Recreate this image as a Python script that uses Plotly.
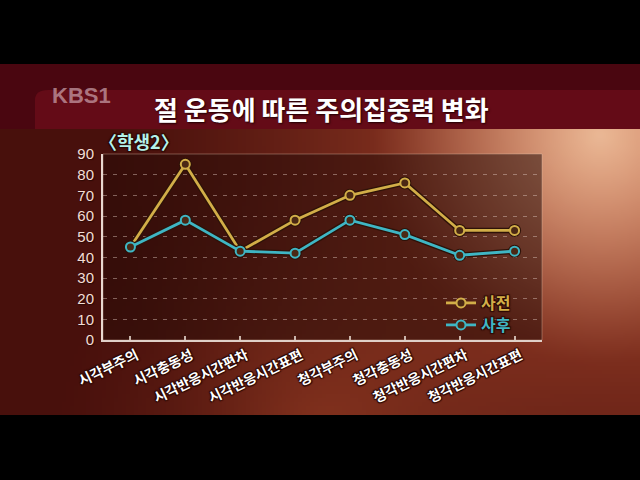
import base64, struct, zlib
import numpy as np
import plotly.graph_objects as go

# ---- data ----
categories = ["시각부주의", "시각충동성", "시각반응시간편차", "시각반응시간표편",
              "청각부주의", "청각충동성", "청각반응시간편차", "청각반응시간표편"]
before = [45, 85, 43, 58, 70, 76, 53, 53]   # 사전
after = [45, 58, 43, 42, 58, 51, 41, 43]    # 사후
y_ticks = [0, 10, 20, 30, 40, 50, 60, 70, 80, 90]

W, H = 640, 480
L, R, T, B = 103, 98, 154, 140
PW, PH = W - L - R, H - T - B


def fx(px):
    return (px - L) / PW


def fy(py):
    return (H - B - py) / PH


# ---- background gradient image ----
gw, gh = 160, 120
xs = (np.arange(gw) + 0.5) * (W / gw)
ys = (np.arange(gh) + 0.5) * (H / gh)
X, Y = np.meshgrid(xs, ys)
dark = np.array([72, 16, 12], float)
orange = np.array([185, 80, 50], float)
peach = np.array([235, 185, 150], float)
bott = np.array([165, 70, 40], float)
d1 = np.hypot(X - 620, Y - 130)
w1 = np.clip(1 - d1 / 520, 0, 1) ** 1.3
col = dark + (orange - dark) * w1[..., None]
d2 = np.hypot(X - 600, Y - 135)
w2 = np.clip(1 - d2 / 230, 0, 1) ** 1.2
col = col + (peach - col) * w2[..., None]
d3 = np.hypot(X - 320, Y - 440)
w3 = np.clip(1 - d3 / 280, 0, 1) ** 1.5 * 0.6
col = col + (bott - col) * w3[..., None]
arr = np.clip(col, 0, 255).astype(np.uint8)


def png_uri(a):
    h, w, _ = a.shape
    raw = b"".join(b"\x00" + a[r].tobytes() for r in range(h))

    def chunk(t, d):
        c = struct.pack(">I", len(d)) + t + d
        return c + struct.pack(">I", zlib.crc32(t + d) & 0xffffffff)

    png = (b"\x89PNG\r\n\x1a\n"
           + chunk(b"IHDR", struct.pack(">IIBBBBB", w, h, 8, 2, 0, 0, 0))
           + chunk(b"IDAT", zlib.compress(raw, 9))
           + chunk(b"IEND", b""))
    return "data:image/png;base64," + base64.b64encode(png).decode()


GOLD = "#d2ae48"
CYAN = "#3fb6c4"
OUT = "#2e1208"
outline_shadow = ("1px 1px 1px #2a0804, -1px -1px 1px #2a0804, "
                  "1px -1px 1px #2a0804, -1px 1px 1px #2a0804")

fig = go.Figure()
for vals, color, name, lg in [(before, GOLD, "사전", "legend"), (after, CYAN, "사후", "legend2")]:
    fig.add_trace(go.Scatter(
        x=categories, y=vals, mode="lines+markers", showlegend=False,
        line=dict(color=OUT, width=5.5),
        marker=dict(size=13, color=OUT), hoverinfo="skip"))
    fig.add_trace(go.Scatter(
        x=categories, y=vals, mode="lines+markers", legend=lg,
        name=f"<span style='color:{color}'>{name}</span>",
        line=dict(color=color, width=2.8),
        marker=dict(size=9, color="#4a2814", line=dict(color=color, width=2))))

shapes = [
    dict(type="rect", xref="paper", yref="paper", x0=fx(0), x1=fx(W),
         y0=fy(64), y1=fy(0), fillcolor="#000000", line_width=0, layer="below"),
    dict(type="rect", xref="paper", yref="paper", x0=fx(0), x1=fx(W),
         y0=fy(129), y1=fy(64), fillcolor="#4a0610", line_width=0, layer="below"),
    dict(type="path", xref="paper", yref="paper", layer="below", line_width=0,
         fillcolor="#640b17",
         path=(f"M {fx(35)},{fy(129)} L {fx(35)},{fy(100)} "
               f"Q {fx(35)},{fy(90)} {fx(48)},{fy(90)} L {fx(W)},{fy(90)} "
               f"L {fx(W)},{fy(129)} Z")),
    dict(type="rect", xref="paper", yref="paper", x0=fx(0), x1=fx(W),
         y0=fy(H), y1=fy(415), fillcolor="#000000", line_width=0, layer="below"),
    dict(type="rect", xref="x domain", yref="y domain", x0=0, x1=1, y0=0, y1=1,
         fillcolor="rgba(38,12,8,0.52)", line=dict(color="rgba(235,205,185,0.35)", width=1),
         layer="below"),
]

annotations = [
    dict(text="절 운동에 따른 주의집중력 변화", xref="paper", yref="paper",
         x=fx(321), y=fy(108), xanchor="center", yanchor="middle", showarrow=False,
         font=dict(family="Noto Sans CJK KR", size=26, color="#ffffff", weight="bold",
                   shadow="1px 1px 2px #200004")),
    dict(text="KBS1", xref="paper", yref="paper", x=fx(50), y=fy(95),
         xanchor="left", yanchor="middle", showarrow=False,
         font=dict(family="Liberation Sans", size=22, color="rgba(205,165,175,0.7)",
                   weight="bold")),
    dict(text="〈학생2〉", xref="paper", yref="paper", x=fx(139), y=fy(141),
         xanchor="center", yanchor="middle", showarrow=False,
         font=dict(family="Noto Sans CJK KR", size=18, color="#b4f2ea", weight="bold",
                   shadow=outline_shadow)),
]

legend_common = dict(xanchor="left", yanchor="middle", bgcolor="rgba(0,0,0,0)",
                     borderwidth=0, itemwidth=30,
                     font=dict(family="Noto Sans CJK KR", size=16, weight="bold",
                               shadow=outline_shadow))

fig.update_layout(
    width=W, height=H,
    margin=dict(l=L, r=R, t=T, b=B, pad=0),
    paper_bgcolor="#4a1410",
    plot_bgcolor="rgba(0,0,0,0)",
    images=[dict(source=png_uri(arr), xref="paper", yref="paper",
                 x=fx(0), y=fy(0), sizex=W / PW, sizey=H / PH,
                 xanchor="left", yanchor="top", sizing="stretch", layer="below")],
    shapes=shapes,
    annotations=annotations,
    showlegend=True,
    legend=dict(x=fx(441), y=fy(303), **legend_common),
    legend2=dict(x=fx(441), y=fy(325), **legend_common),
    xaxis=dict(
        type="category", range=[-0.5, 7.5], showgrid=False, zeroline=False,
        showline=True, linecolor="#e0d0c8", linewidth=2,
        ticks="inside", ticklen=4, tickcolor="rgba(235,220,210,0.8)", tickwidth=2,
        tickangle=-26, ticklabelshift=6,
        tickfont=dict(family="Noto Sans CJK KR", size=14, color="#ffffff",
                      weight="bold", shadow=outline_shadow),
    ),
    yaxis=dict(
        range=[0, 90], tickvals=y_ticks, showgrid=True,
        gridcolor="rgba(225,200,190,0.45)", gridwidth=1, griddash="4px,6px",
        zeroline=False, showline=True, linecolor="#e8d8d0", linewidth=2,
        ticks="", ticklabelstandoff=4,
        tickfont=dict(family="Liberation Sans", size=15, color="#f2ddd6",
                      shadow="1px 1px 1px #2a0804"),
    ),
)

fig.write_html("out.html", config={"displayModeBar": False},
               post_script="document.body.style.margin='0';document.body.style.overflow='hidden';")
